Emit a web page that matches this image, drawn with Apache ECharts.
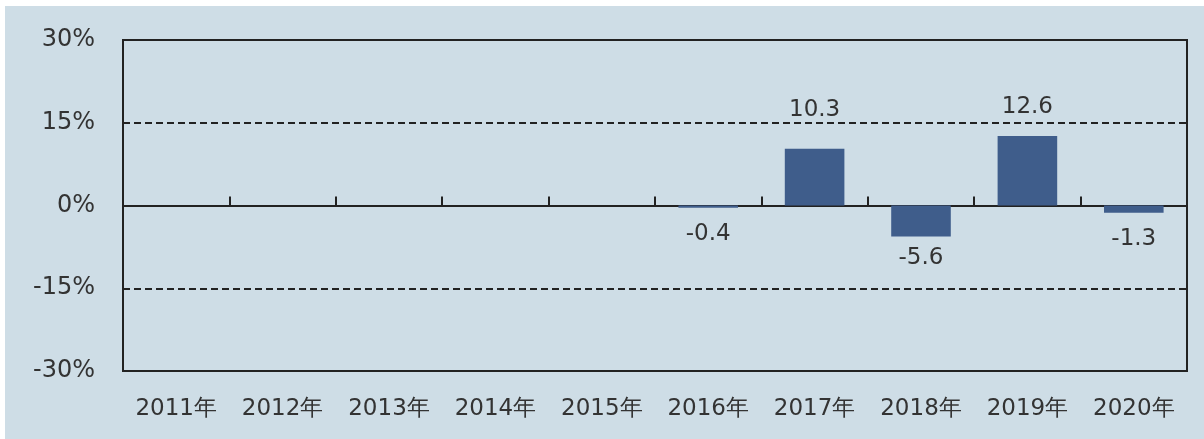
<!DOCTYPE html>
<html>
<head>
<meta charset="utf-8">
<script src="https://cdn.jsdelivr.net/npm/echarts@6/dist/echarts.min.js"></script>
<style>
html,body{margin:0;padding:0;background:#ffffff;}
#c{width:1204px;height:439px;}
</style>
</head>
<body>
<div id="c"></div>
<script>
const categories = ['2011年','2012年','2013年','2014年','2015年','2016年','2017年','2018年','2019年','2020年'];
const values = [null, null, null, null, null, -0.4, 10.3, -5.6, 12.6, -1.3];
const yTicks = [-30, -15, 0, 15, 30];

const chart = echarts.init(document.getElementById('c'));
const font = '"DejaVu Sans", Verdana, sans-serif';
// label gaps (px) between bar end and its value label, as laid out in the original
const labelGap = [5, 5, 5, 5, 5, 15, 27, 10, 17, 15];
chart.setOption({
  animation: false,
  backgroundColor: 'transparent',
  graphic: [{
    type: 'rect', z: -10, silent: true,
    shape: {x: 5, y: 6, width: 1199, height: 433},
    style: {fill: '#cedde6'}
  }],
  grid: {left: 123, right: 17, top: 40, bottom: 68, show: true, borderColor: '#222', borderWidth: 2, backgroundColor: 'transparent'},
  xAxis: [{
    type: 'category', data: categories,
    axisLine: {onZero: true, lineStyle: {color: '#222', width: 2}},
    axisTick: {show: true, inside: true, length: 9, lineStyle: {color: '#222', width: 2}},
    axisLabel: {show: false},
    splitLine: {show: false}
  }, {
    type: 'category', data: categories, position: 'bottom',
    axisLine: {show: false, onZero: false},
    axisTick: {show: false},
    axisLabel: {show: true, color: '#333', fontSize: 23, fontFamily: font, margin: 27},
    splitLine: {show: false}
  }],
  yAxis: {
    type: 'value', min: yTicks[0], max: yTicks[yTicks.length - 1], interval: 15,
    axisLine: {show: false},
    axisTick: {show: false},
    axisLabel: {color: '#333', fontSize: 24, fontFamily: font, margin: 28, formatter: v => v + '%'},
    splitLine: {show: true, lineStyle: {color: ['transparent', '#222', 'transparent', '#222', 'transparent'], type: [7, 4], width: 2}}
  },
  series: [{
    type: 'bar', xAxisIndex: 0, barWidth: '56%',
    data: values.map((v, i) => v == null ? null : {
      value: v,
      label: {position: v < 0 ? 'bottom' : 'top', distance: labelGap[i]}
    }),
    itemStyle: {color: '#3f5d8b'},
    label: {
      show: true, fontSize: 23, fontFamily: font, color: '#333',
      formatter: p => p.value == null ? '' : p.value.toFixed(1)
    }
  }]
});
</script>
</body>
</html>
